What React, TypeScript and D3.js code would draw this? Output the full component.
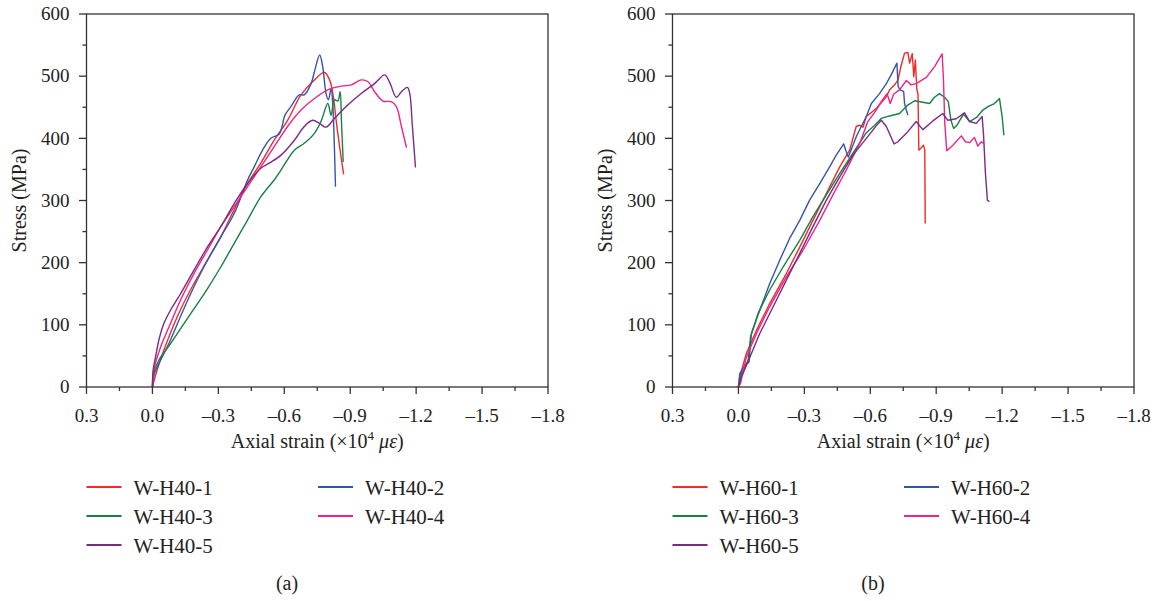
import React from 'react';
import * as d3 from 'd3';

const width = 1162;
const height = 601;

const strainTicks = [0.3, 0, -0.3, -0.6, -0.9, -1.2, -1.5, -1.8];
const stressTicks = [0, 100, 200, 300, 400, 500, 600];

const colors = ['#f22a2a', '#3556a8', '#178043', '#ec2588', '#7b2a86'];

// (a) W-H40 specimens: [strain x10^4, stress MPa]
const h40_1 = [[0, 0], [-0.021, 26.8], [-0.052, 59], [-0.113, 113], [-0.173, 156], [-0.25, 204], [-0.311, 241.5], [-0.371, 284.5], [-0.432, 327], [-0.493, 360], [-0.554, 397], [-0.615, 429], [-0.676, 470], [-0.737, 494], [-0.783, 506], [-0.806, 494], [-0.821, 472], [-0.836, 429], [-0.852, 386], [-0.87, 342]];
const h40_2 = [[0, 0], [-0.009, 21.5], [-0.037, 43], [-0.075, 70], [-0.12, 107], [-0.174, 150], [-0.234, 193], [-0.311, 241.5], [-0.372, 279], [-0.433, 333], [-0.463, 354], [-0.501, 381], [-0.539, 400], [-0.577, 407], [-0.603, 437], [-0.63, 451], [-0.668, 470], [-0.691, 470], [-0.722, 488], [-0.737, 507], [-0.761, 534], [-0.775, 515], [-0.79, 472], [-0.801, 462], [-0.813, 480], [-0.821, 451], [-0.828, 386], [-0.833, 322]];
const h40_3 = [[0, 0], [-0.006, 21.5], [-0.029, 43], [-0.067, 62], [-0.113, 86], [-0.174, 118], [-0.25, 158], [-0.311, 193], [-0.372, 231], [-0.432, 268], [-0.493, 306], [-0.554, 333], [-0.585, 349], [-0.646, 381], [-0.691, 392], [-0.737, 408], [-0.767, 427], [-0.798, 456], [-0.813, 437], [-0.828, 462], [-0.844, 460], [-0.854, 475], [-0.86, 429], [-0.868, 362]];
const h40_4 = [[0, 0], [-0.006, 27], [-0.037, 64], [-0.082, 102], [-0.128, 140], [-0.189, 182.5], [-0.25, 220], [-0.311, 258], [-0.372, 290], [-0.432, 322], [-0.493, 354], [-0.554, 386.5], [-0.615, 419], [-0.676, 445.5], [-0.737, 464], [-0.798, 478], [-0.859, 484], [-0.905, 486], [-0.95, 494], [-0.981, 491], [-1.011, 475], [-1.049, 460], [-1.087, 459], [-1.11, 451], [-1.133, 419], [-1.156, 385]];
const h40_5 = [[0, 0], [-0.003, 27], [-0.014, 48], [-0.029, 75], [-0.052, 102], [-0.082, 123.5], [-0.128, 150], [-0.189, 188], [-0.25, 225], [-0.311, 258], [-0.372, 295], [-0.432, 327], [-0.493, 352], [-0.531, 360], [-0.585, 373], [-0.646, 397], [-0.691, 419], [-0.729, 429], [-0.76, 424], [-0.79, 418], [-0.828, 432], [-0.889, 453.5], [-0.95, 472], [-1.011, 488], [-1.057, 502], [-1.08, 489.5], [-1.11, 466], [-1.133, 475], [-1.16, 482], [-1.171, 472], [-1.183, 419], [-1.197, 353]];

// (b) W-H60 specimens
const h60_1 = [[0, 0], [-0.006, 16], [-0.036, 54], [-0.082, 91], [-0.142, 134], [-0.218, 182.5], [-0.279, 225], [-0.339, 268], [-0.4, 311], [-0.461, 354], [-0.506, 381], [-0.536, 419], [-0.552, 421], [-0.567, 418], [-0.582, 435], [-0.627, 448], [-0.673, 467], [-0.688, 478], [-0.711, 486], [-0.726, 494], [-0.741, 518], [-0.756, 537], [-0.771, 538], [-0.779, 521], [-0.791, 536], [-0.798, 499], [-0.805, 526], [-0.812, 478], [-0.817, 472], [-0.821, 381], [-0.832, 385], [-0.842, 389], [-0.848, 381], [-0.85, 263]];
const h60_2 = [[0, 0], [-0.006, 21.5], [-0.029, 35], [-0.048, 40], [-0.059, 86], [-0.097, 123.5], [-0.142, 166], [-0.188, 204], [-0.233, 239], [-0.279, 268], [-0.324, 300.6], [-0.37, 327], [-0.415, 354], [-0.445, 373], [-0.479, 391], [-0.491, 378], [-0.5, 370], [-0.536, 402.6], [-0.559, 419], [-0.582, 435], [-0.605, 456], [-0.642, 472], [-0.673, 488], [-0.695, 502], [-0.721, 521], [-0.727, 483], [-0.736, 478], [-0.752, 475], [-0.756, 456], [-0.764, 445.5], [-0.771, 437.5]];
const h60_3 = [[0, 0], [-0.014, 21.5], [-0.044, 43], [-0.055, 80.5], [-0.089, 118], [-0.142, 156], [-0.203, 193], [-0.279, 236], [-0.339, 274], [-0.4, 309], [-0.461, 343.5], [-0.521, 376], [-0.582, 409], [-0.62, 421], [-0.65, 432], [-0.688, 436], [-0.733, 440], [-0.771, 453.5], [-0.802, 460.5], [-0.839, 458], [-0.87, 456], [-0.892, 466], [-0.915, 472], [-0.938, 466], [-0.955, 459], [-0.967, 429], [-0.979, 416], [-0.994, 421], [-1.024, 439], [-1.052, 427], [-1.085, 434], [-1.112, 445.5], [-1.135, 451], [-1.165, 456], [-1.188, 464], [-1.2, 435], [-1.208, 405]];
const h60_4 = [[0, 0], [-0.009, 5.4], [-0.036, 48], [-0.082, 86], [-0.142, 129], [-0.218, 177], [-0.294, 220], [-0.37, 268], [-0.43, 309], [-0.491, 349], [-0.552, 392], [-0.589, 427], [-0.627, 445.5], [-0.65, 459], [-0.676, 472], [-0.691, 456], [-0.706, 471], [-0.733, 478], [-0.764, 493], [-0.786, 486], [-0.809, 488], [-0.855, 498], [-0.892, 515], [-0.927, 536], [-0.933, 494], [-0.939, 424], [-0.948, 380], [-0.976, 389], [-1.014, 404], [-1.033, 394.5], [-1.052, 393], [-1.074, 401.5], [-1.089, 387.5], [-1.105, 394.5], [-1.115, 392]];
const h60_5 = [[0, 0], [-0.014, 16], [-0.052, 48], [-0.097, 86], [-0.158, 129], [-0.218, 172], [-0.279, 215], [-0.339, 258], [-0.4, 300.6], [-0.461, 338], [-0.521, 373], [-0.582, 400], [-0.627, 420], [-0.65, 429], [-0.673, 419], [-0.691, 405], [-0.708, 391], [-0.726, 394.5], [-0.764, 408], [-0.809, 427], [-0.839, 414], [-0.885, 428], [-0.93, 440], [-0.953, 429], [-0.991, 431.5], [-1.029, 441], [-1.052, 427], [-1.082, 424], [-1.109, 435], [-1.115, 408], [-1.124, 343.5], [-1.133, 300.6], [-1.142, 298]];

const namesA = ['W-H40-1', 'W-H40-2', 'W-H40-3', 'W-H40-4', 'W-H40-5'];
const namesB = ['W-H60-1', 'W-H60-2', 'W-H60-3', 'W-H60-4', 'W-H60-5'];

const font = '"Liberation Serif", "DejaVu Serif", serif';
const axisColor = '#333';

const top = 14;
const bottom = 387;
const plotW = 461.5;

const Panel = ({ left, series, names, label, smooth }) => {
  const x = d3.scaleLinear().domain([0.3, -1.8]).range([left, left + plotW]);
  const y = d3.scaleLinear().domain([0, 600]).range([bottom, top]);
  const line = d3.line()
    .x(d => x(d[0]))
    .y(d => y(d[1]))
    .curve(smooth ? d3.curveCatmullRom.alpha(0.5) : d3.curveLinear);

  const xMinor = d3.range(0, 7).map(i => 0.15 - 0.3 * i);
  const yMinor = d3.range(0, 6).map(i => 50 + 100 * i);
  const fmt = v => (v < 0 ? '\u2013' + Math.abs(v).toFixed(1) : v.toFixed(1));

  // legend: two columns, filled row by row
  const legendRows = [487, 516, 545];

  return (
    <g>
      {series.map((s, i) => (
        <path key={i} d={line(s)} fill="none" stroke={colors[i]} strokeWidth={1.4} strokeLinejoin="round" />
      ))}
      <rect x={left} y={top} width={plotW} height={bottom - top} fill="none" stroke={axisColor} strokeWidth={1.3} />
      {strainTicks.map(t => (
        <g key={t}>
          <line x1={x(t)} x2={x(t)} y1={bottom} y2={bottom + 7} stroke={axisColor} strokeWidth={1.3} />
          <text x={x(t)} y={422} textAnchor="middle" fontSize={19} fontFamily={font} fill="#222">{fmt(t)}</text>
        </g>
      ))}
      {xMinor.map(t => (
        <line key={t} x1={x(t)} x2={x(t)} y1={bottom} y2={bottom + 4} stroke={axisColor} strokeWidth={1.3} />
      ))}
      {stressTicks.map(t => (
        <g key={t}>
          <line x1={left - 7.5} x2={left} y1={y(t)} y2={y(t)} stroke={axisColor} strokeWidth={1.3} />
          <text x={left - 17} y={y(t)} dy="0.33em" textAnchor="end" fontSize={19} fontFamily={font} fill="#222">{t}</text>
        </g>
      ))}
      {yMinor.map(t => (
        <line key={t} x1={left - 4} x2={left} y1={y(t)} y2={y(t)} stroke={axisColor} strokeWidth={1.3} />
      ))}
      <text x={left + plotW / 2} y={448} textAnchor="middle" fontSize={20} fontFamily={font} fill="#222">
        Axial strain (×10<tspan fontSize={13} dy={-8}>4</tspan><tspan dy={8}> </tspan><tspan fontStyle="italic">με</tspan>)
      </text>
      <text transform={`translate(${left - 61},${(top + bottom) / 2}) rotate(-90)`} textAnchor="middle" fontSize={20} fontFamily={font} fill="#222">
        Stress (MPa)
      </text>
      {names.map((n, i) => {
        const cx = left + (i % 2) * 231.5;
        const cy = legendRows[Math.floor(i / 2)];
        return (
          <g key={n}>
            <line x1={cx} x2={cx + 35} y1={cy} y2={cy} stroke={colors[i]} strokeWidth={1.8} />
            <text x={cx + 47} y={cy + 7.5} fontSize={21} fontFamily={font} fill="#222">{n}</text>
          </g>
        );
      })}
      <text x={left + 200.5} y={590} textAnchor="middle" fontSize={20} fontFamily={font} fill="#222">{label}</text>
    </g>
  );
};

export default function App() {
  return (
    <svg width={width} height={height} style={{ position: 'absolute', left: 0, top: 0, background: '#fff' }}>
      <Panel left={86.5} series={[h40_1, h40_2, h40_3, h40_4, h40_5]} names={namesA} label="(a)" smooth={true} />
      <Panel left={672.5} series={[h60_1, h60_2, h60_3, h60_4, h60_5]} names={namesB} label="(b)" smooth={false} />
    </svg>
  );
}
